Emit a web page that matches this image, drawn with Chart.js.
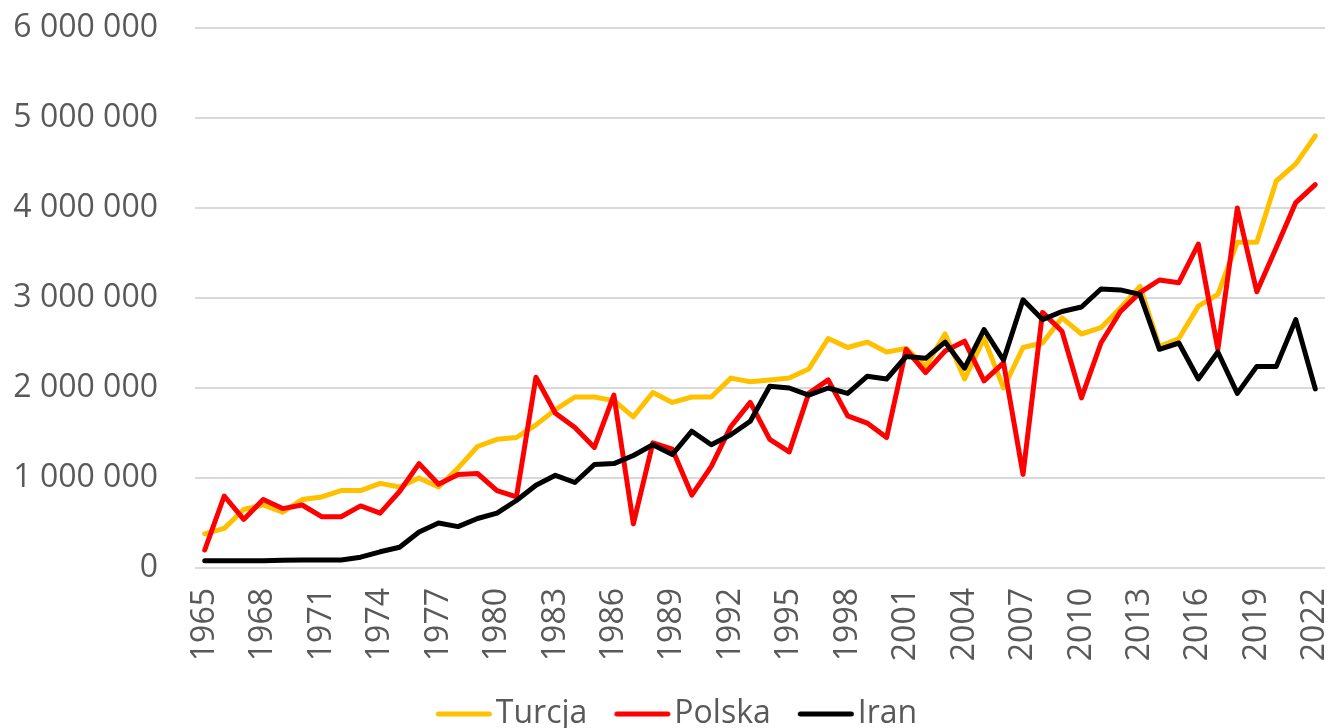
<!DOCTYPE html>
<html>
<head>
<meta charset="utf-8">
<script src="https://cdn.jsdelivr.net/npm/chart.js@4"></script>
<style>
  html, body { margin: 0; padding: 0; background: #fff; }
  #wrap { width: 1332px; height: 728px; }
</style>
</head>
<body>
<div id="wrap"><canvas id="chart" width="1332" height="728"></canvas></div>
<script>
// ---------- DATA ----------
let years = [
  "1965","1966","1967","1968","1969","1970","1971","1972","1973","1974",
  "1975","1976","1977","1978","1979","1980","1981","1982","1983","1984",
  "1985","1986","1987","1988","1989","1990","1991","1992","1993","1994",
  "1995","1996","1997","1998","1999","2000","2001","2002","2003","2004",
  "2005","2006","2007","2008","2009","2010","2011","2012","2013","2014",
  "2015","2016","2017","2018","2019","2020","2021","2022"
];

let turcja = [
  380000, 440000, 650000, 700000, 620000, 760000, 790000, 860000, 860000, 940000,
  900000, 1000000, 900000, 1110000, 1350000, 1430000, 1450000, 1590000, 1760000, 1900000,
  1900000, 1860000, 1680000, 1950000, 1840000, 1900000, 1900000, 2110000, 2070000, 2090000,
  2110000, 2210000, 2550000, 2450000, 2510000, 2400000, 2440000, 2240000, 2600000, 2100000,
  2550000, 2000000, 2450000, 2500000, 2780000, 2600000, 2670000, 2890000, 3130000, 2460000,
  2550000, 2910000, 3040000, 3620000, 3620000, 4300000, 4490000, 4800000
];

let polska = [
  200000, 800000, 540000, 760000, 660000, 700000, 570000, 570000, 690000, 610000,
  850000, 1160000, 930000, 1040000, 1050000, 860000, 790000, 2120000, 1720000, 1560000,
  1340000, 1920000, 490000, 1390000, 1320000, 810000, 1130000, 1570000, 1840000, 1430000,
  1290000, 1940000, 2090000, 1690000, 1610000, 1450000, 2430000, 2170000, 2410000, 2520000,
  2080000, 2280000, 1040000, 2840000, 2630000, 1890000, 2500000, 2850000, 3060000, 3200000,
  3170000, 3600000, 2430000, 4000000, 3070000, 3560000, 4060000, 4260000
];

let iran = [
  80000, 80000, 80000, 80000, 85000, 90000, 90000, 90000, 120000, 180000,
  230000, 400000, 500000, 460000, 550000, 610000, 750000, 920000, 1030000, 950000,
  1150000, 1160000, 1250000, 1370000, 1260000, 1520000, 1370000, 1480000, 1630000, 2020000,
  2000000, 1920000, 2000000, 1940000, 2130000, 2100000, 2350000, 2330000, 2510000, 2220000,
  2650000, 2310000, 2980000, 2760000, 2850000, 2900000, 3100000, 3090000, 3040000, 2430000,
  2500000, 2100000, 2400000, 1940000, 2240000, 2240000, 2760000, 1990000
];

let seriesNames = ["Turcja", "Polska", "Iran"];
let seriesColors = ["#FFC000", "#FF0000", "#000000"];

// ---------- CHART ----------
const FONT = "'Open Sans', 'DejaVu Sans', sans-serif";
const TEXT = "#595959";
const LEGEND_BOX = 44;

function spaced(v) {
  return String(v).replace(/\B(?=(\d{3})+(?!\d))/g, " ");
}

// legend sample: 56px line ending close to the text (drawn centred on the box)
function legendLine(color) {
  let c = document.createElement("canvas");
  c.width = LEGEND_BOX * 2;
  c.height = 8;
  let ctx = c.getContext("2d");
  ctx.strokeStyle = color;
  ctx.lineWidth = 5;
  ctx.lineCap = "round";
  ctx.beginPath();
  ctx.moveTo(LEGEND_BOX / 2 + 2.5, 4);
  ctx.lineTo(LEGEND_BOX / 2 + 56 - 2.5, 4);
  ctx.stroke();
  return c;
}

function makeLine(i, values) {
  return {
    label: seriesNames[i],
    data: values,
    borderColor: seriesColors[i],
    backgroundColor: seriesColors[i],
    borderWidth: 5,
    pointRadius: 0,
    tension: 0,
    borderJoinStyle: "round",
    borderCapStyle: "round",
    order: 3 - i,
    fill: false
  };
}

const legendShift = {
  id: "legendShift",
  afterLayout(chart) {
    chart.legend.left += 14;
    chart.legend.right += 14;
  }
};

new Chart(document.getElementById("chart"), {
  type: "line",
  data: {
    labels: years,
    datasets: [makeLine(0, turcja), makeLine(1, polska), makeLine(2, iran)]
  },
  plugins: [legendShift],
  options: {
    responsive: false,
    animation: false,
    layout: { padding: { top: 28, right: 7, left: 0, bottom: -12 } },
    scales: {
      x: {
        offset: true,
        grid: { display: false, drawTicks: false },
        border: { display: false },
        afterFit: s => {
          s.height = 103;
          s.paddingLeft = 0; s.paddingRight = 0;
        },
        ticks: {
          autoSkip: false,
          maxRotation: 90,
          minRotation: 90,
          padding: 20,
          color: TEXT,
          font: { family: FONT, size: 32 },
          callback: function (val, i) {
            return i % 3 === 0 ? this.getLabelForValue(val) : "";
          }
        }
      },
      y: {
        min: 0,
        max: 6000000,
        afterFit: s => {
          s.width = 195;
          s.paddingTop = 0; s.paddingBottom = 0;
        },
        grid: { color: "#D9D9D9", lineWidth: 2, drawTicks: false },
        border: { display: false },
        ticks: {
          stepSize: 1000000,
          padding: 37,
          color: TEXT,
          font: { family: FONT, size: 32 },
          callback: v => spaced(v)
        }
      }
    },
    plugins: {
      tooltip: { enabled: false },
      legend: {
        position: "bottom",
        labels: {
          usePointStyle: true,
          pointStyleWidth: LEGEND_BOX,
          boxHeight: 8,
          padding: 27,
          color: TEXT,
          font: { family: FONT, size: 32 },
          sort: (a, b) => a.datasetIndex - b.datasetIndex,
          generateLabels: chart => chart.data.datasets.map((ds, i) => ({
            text: ds.label,
            fillStyle: ds.borderColor,
            strokeStyle: ds.borderColor,
            lineWidth: 0,
            pointStyle: legendLine(ds.borderColor),
            datasetIndex: i,
            fontColor: TEXT
          }))
        }
      }
    }
  }
});
</script>
</body>
</html>
